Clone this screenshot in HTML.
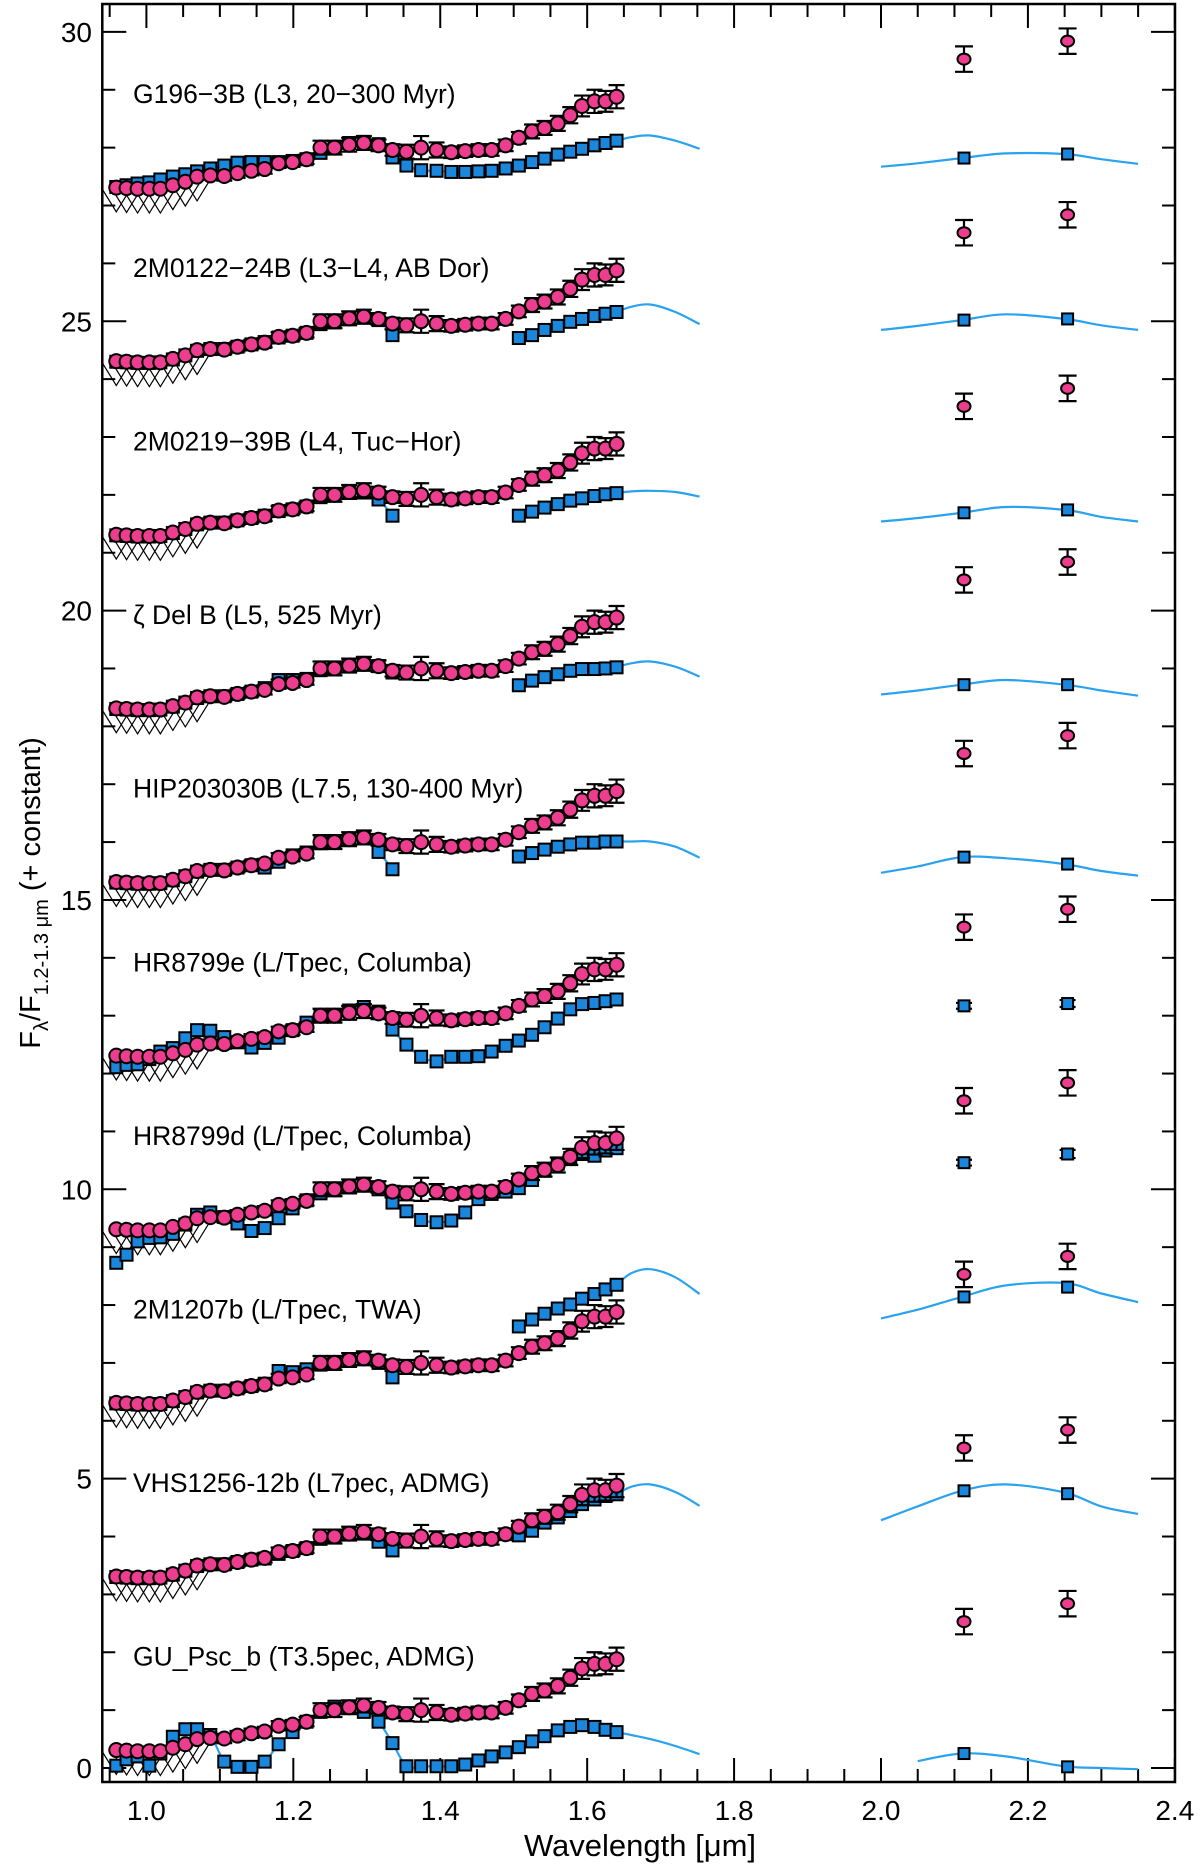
<!DOCTYPE html>
<html><head><meta charset="utf-8"><style>
html,body{margin:0;padding:0;background:#fff;}
svg{display:block;}
text{font-family:"Liberation Sans",Arial,sans-serif;fill:#000;}
</style></head><body>
<svg id="chart" width="1200" height="1870" viewBox="0 0 1200 1870" xmlns="http://www.w3.org/2000/svg">
<g id="axes"></g>
<g id="plot"></g>
<text x="640" y="1856" font-size="31" text-anchor="middle">Wavelength [μm]</text>
<text transform="translate(40,893) rotate(-90)" font-size="29" text-anchor="middle">F<tspan font-size="20" dy="8">λ</tspan><tspan dy="-8">/F</tspan><tspan font-size="20" dy="8">1.2-1.3 μm</tspan><tspan dy="-8"> (+ constant)</tspan></text>
</svg>
<script>
const LAM = [0.959,0.973,0.988,1.004,1.019,1.036,1.053,1.069,1.087,1.106,1.124,1.143,1.161,1.180,1.199,1.218,1.237,1.256,1.276,1.296,1.316,1.335,1.354,1.374,1.395,1.415,1.434,1.452,1.470,1.489,1.507,1.525,1.542,1.560,1.577,1.593,1.610,1.625,1.640];
const PINK = [0.31,0.30,0.29,0.29,0.29,0.35,0.41,0.50,0.52,0.51,0.56,0.60,0.63,0.73,0.75,0.80,1.00,1.00,1.05,1.08,1.04,0.96,0.93,1.00,0.96,0.92,0.94,0.96,0.96,1.04,1.17,1.28,1.34,1.42,1.56,1.72,1.80,1.80,1.88];
const PINK_ERR = [0,0,0,0,0,0,0,0,0.07,0.08,0.08,0.08,0.08,0.08,0.08,0.08,0.12,0.12,0.12,0.12,0.10,0.10,0.12,0.20,0.13,0.10,0.10,0.10,0.10,0.10,0.10,0.12,0.12,0.13,0.14,0.18,0.20,0.18,0.20];
const K_LAM = [2.113,2.254];
const K_PINK = [2.53,2.84];
const K_PINK_ERR = [0.22,0.22];
const OFFSETS = [27,24,21,18,15,12,9,6,3,0];
const NAMES = ["G196\u22123B (L3, 20\u2212300 Myr)","2M0122\u221224B (L3\u2212L4, AB Dor)","2M0219\u221239B (L4, Tuc\u2212Hor)","\u03b6 Del B (L5, 525 Myr)","HIP203030B (L7.5, 130-400 Myr)","HR8799e (L/Tpec, Columba)","HR8799d (L/Tpec, Columba)","2M1207b (L/Tpec, TWA)","VHS1256-12b (L7pec, ADMG)","GU_Psc_b (T3.5pec, ADMG)"];
const N = null;
const BLUE_G196 = [0.32,0.35,0.38,0.40,0.45,0.50,0.54,0.59,0.64,0.69,0.74,0.75,0.75,0.75,0.77,0.80,0.91,0.99,1.08,1.10,1.06,0.83,0.69,0.61,0.60,0.58,0.58,0.59,0.60,0.64,0.69,0.75,0.81,0.88,0.93,0.98,1.04,1.08,1.12];
const BLUE_2M0122 = [0.30,0.29,0.28,0.28,0.29,0.34,0.41,0.49,0.52,0.52,0.56,0.60,0.64,0.72,0.75,0.80,0.95,0.98,1.04,1.06,1.02,0.76,N,N,N,N,N,N,N,N,0.71,0.76,0.85,0.92,0.99,1.04,1.09,1.13,1.16];
const BLUE_2M0219 = [0.30,0.29,0.28,0.28,0.29,0.34,0.41,0.49,0.52,0.52,0.56,0.60,0.64,0.72,0.75,0.80,0.96,0.99,1.05,1.04,0.92,0.64,N,N,N,N,N,N,N,N,0.64,0.71,0.78,0.84,0.90,0.94,0.98,1.01,1.03];
const BLUE_ZDEL = [0.30,0.29,0.28,0.28,0.29,0.34,0.41,0.49,0.52,0.52,0.56,0.60,0.66,0.80,0.80,0.82,0.97,0.99,1.05,1.08,1.04,0.93,N,N,N,N,N,N,N,N,0.71,0.79,0.85,0.90,0.96,0.99,0.99,1.00,1.02];
const BLUE_HIP = [0.30,0.29,0.28,0.28,0.29,0.34,0.41,0.49,0.52,0.52,0.56,0.60,0.56,0.66,0.77,0.82,0.98,0.99,1.05,1.07,0.83,0.53,N,N,N,N,N,N,N,N,0.75,0.81,0.87,0.92,0.96,0.99,0.99,1.01,1.01];
const BLUE_HR8799E = [0.11,0.15,0.16,0.25,0.38,0.44,0.61,0.75,0.74,0.63,0.54,0.45,0.53,0.62,0.75,0.88,0.99,0.99,1.09,1.15,1.07,0.76,0.50,0.29,0.21,0.29,0.29,0.30,0.38,0.48,0.57,0.67,0.80,0.95,1.11,1.20,1.22,1.25,1.28];
const BLUE_HR8799D = [-0.27,-0.13,0.10,0.16,0.17,0.23,0.39,0.56,0.60,0.52,0.41,0.28,0.33,0.50,0.67,0.81,0.93,0.99,1.06,1.09,1.00,0.77,0.62,0.47,0.43,0.46,0.60,0.83,0.92,0.96,1.02,1.16,1.32,1.44,1.54,1.61,1.58,1.67,1.71];
const BLUE_2M1207 = [0.30,0.29,0.28,0.28,0.29,0.34,0.41,0.49,0.52,0.52,0.56,0.60,0.64,0.86,0.84,0.89,0.97,0.99,1.05,1.07,1.00,0.75,N,N,N,N,N,N,N,N,1.63,1.75,1.85,1.94,2.01,2.11,2.19,2.27,2.35];
const BLUE_VHS = [0.30,0.29,0.28,0.28,0.29,0.34,0.41,0.49,0.52,0.52,0.56,0.60,0.62,0.70,0.75,0.80,0.96,0.99,1.04,1.05,0.91,0.76,N,N,N,N,N,N,N,N,1.02,1.10,1.24,1.33,1.44,1.56,1.64,1.70,1.73];
const BLUE_GU = [0.04,0.15,0.20,0.04,0.25,0.54,0.67,0.67,0.57,0.11,0.02,0.02,0.11,0.41,0.62,0.80,0.97,1.06,1.05,0.97,0.80,0.43,0.03,0.03,0.03,0.03,0.06,0.13,0.20,0.27,0.36,0.46,0.55,0.65,0.71,0.74,0.71,0.66,0.62];
const BLUE = [BLUE_G196,BLUE_2M0122,BLUE_2M0219,BLUE_ZDEL,BLUE_HIP,BLUE_HR8799E,BLUE_HR8799D,BLUE_2M1207,BLUE_VHS,BLUE_GU];
const EXT_LAM = [1.64,1.66,1.686,1.72,1.753];
const EXT_VALS = [[1.12,1.18,1.21,1.12,0.98],[1.16,1.25,1.29,1.16,0.95],[1.03,1.06,1.07,1.05,0.97],[1.02,1.09,1.12,1.03,0.86],[1.01,1.01,1.01,0.92,0.73],null,null,[2.35,2.55,2.62,2.48,2.19],[1.73,1.86,1.90,1.77,1.53],[0.62,0.57,0.50,0.38,0.24]];
const KLINE_LAM = [2.0,2.05,2.11,2.17,2.25,2.30,2.35];
const KLINE_VALS = [[0.67,0.73,0.82,0.90,0.89,0.80,0.72],[0.85,0.92,1.02,1.12,1.04,0.93,0.85],[0.54,0.60,0.69,0.79,0.74,0.62,0.54],[0.55,0.62,0.72,0.80,0.72,0.62,0.53],[0.47,0.58,0.74,0.72,0.62,0.50,0.42],null,null,[1.77,1.92,2.14,2.34,2.38,2.20,2.05],[1.28,1.52,1.79,1.90,1.76,1.52,1.39],[null,0.12,0.25,0.20,0.03,0.0,-0.02]];
const K_BLUE = [[0.82,0.89],[1.02,1.04],[0.69,0.74],[0.72,0.72],[0.74,0.62],[1.17,1.21],[1.46,1.61],[2.14,2.31],[1.79,1.74],[0.25,0.02]];
const K_BLUE_ERR = [[0,0],[0,0],[0,0],[0,0],[0,0],[0.05,0.06],[0.05,0.07],[0,0],[0,0],[0,0]];
const X_TICKS = [1.0,1.2,1.4,1.6,1.8,2.0,2.2,2.4];
const Y_TICKS = [0,5,10,15,20,25,30];

const NS = "http://www.w3.org/2000/svg";
const L = 102.3, R = 1175, T = 4, B = 1782;
function xs(l){ return 146.4 + (l - 1) * 734.6; }
function ys(v){ return 1768 - v * 57.87; }
function mk(tag, attrs, parent){ const e = document.createElementNS(NS, tag); for (const k in attrs) e.setAttribute(k, attrs[k]); parent.appendChild(e); return e; }
const axes = document.getElementById('axes');
const plot = document.getElementById('plot');

const frame = mk('rect', {x:L, y:T, width:R-L, height:B-T, fill:'none', stroke:'#000', 'stroke-width':2.5}, axes);


for (let i = 0; i <= 30; i++) {
  const l = 0.95 + i * 0.05;
  const x = xs(l);
  if (x < L || x > R) continue;
  const major = Math.abs(((l - 1.0) / 0.2) - Math.round((l - 1.0) / 0.2)) < 1e-6;
  const len = major ? 24 : 13;
  const t1 = mk('line', {x1:x, y1:T, x2:x, y2:T+len, stroke:'#000', 'stroke-width':2}, axes);
  
  
  const t2 = mk('line', {x1:x, y1:B, x2:x, y2:B-len, stroke:'#000', 'stroke-width':2}, axes);
  
  
}
X_TICKS.forEach(l => {
  const t = mk('text', {x:xs(l), y:1820, 'font-size':28, 'text-anchor':'middle'}, axes);
  t.textContent = l.toFixed(1);
  
  
});
for (let v = 0; v <= 30; v++) {
  const y = ys(v);
  const len = (v % 5 === 0) ? 24 : 13;
  const a = mk('line', {x1:L, y1:y, x2:L+len, y2:y, stroke:'#000', 'stroke-width':2}, axes);
  
  
  const b = mk('line', {x1:R, y1:y, x2:R-len, y2:y, stroke:'#000', 'stroke-width':2}, axes);
  
  
}
Y_TICKS.forEach(v => {
  const t = mk('text', {x:92, y:ys(v)+10, 'font-size':28, 'text-anchor':'end'}, axes);
  t.textContent = String(v);
  
  
});

function smoothPath(pts){
  if (pts.length < 2) return '';
  let d = `M${pts[0][0].toFixed(1)},${pts[0][1].toFixed(1)}`;
  for (let i = 0; i < pts.length - 1; i++) {
    const p0 = pts[i-1] || pts[i], p1 = pts[i], p2 = pts[i+1], p3 = pts[i+2] || p2;
    const c1x = p1[0] + (p2[0]-p0[0])/6, c1y = p1[1] + (p2[1]-p0[1])/6;
    const c2x = p2[0] - (p3[0]-p1[0])/6, c2y = p2[1] - (p3[1]-p1[1])/6;
    d += ` C${c1x.toFixed(1)},${c1y.toFixed(1)} ${c2x.toFixed(1)},${c2y.toFixed(1)} ${p2[0].toFixed(1)},${p2[1].toFixed(1)}`;
  }
  return d;
}
function lineFrom(lams, vals, off, parent, name){
  let seg = [];
  const flush = () => {
    if (seg.length > 1) {
      const p = mk('path', {d:smoothPath(seg), fill:'none', stroke:'#2aa2ee', 'stroke-width':2.2}, parent);
      
      
    }
    seg = [];
  };
  for (let i = 0; i < lams.length; i++) {
    if (vals[i] === null) { flush(); continue; }
    seg.push([xs(lams[i]), ys(vals[i] + off)]);
  }
  flush();
}
function errbar(x, yc, e, parent, w){
  if (!e) return;
  const y1 = ys(yc + e), y2 = ys(yc - e);
  const g = mk('path', {d:`M${x},${y1}V${y2}M${x-w},${y1}H${x+w}M${x-w},${y2}H${x+w}`, stroke:'#000', 'stroke-width':2.2, fill:'none'}, parent);
  
  
}
function square(x, y, s, parent){
  const r = mk('rect', {x:x-s/2, y:y-s/2, width:s, height:s, fill:'#1a86dc', stroke:'#000', 'stroke-width':2}, parent);
  
  
}

OFFSETS.forEach((off, r) => {
  const g = mk('g', {}, plot);
  
  
  const lbl = mk('text', {x:133, y:ys(off + 1.94) + 10, 'font-size':26.5}, g);
  lbl.textContent = NAMES[r];
  
  
  lineFrom(LAM, BLUE[r], off, g, 'model-line');
  if (EXT_VALS[r]) lineFrom(EXT_LAM, EXT_VALS[r], off, g, 'model-line-ext');
  if (KLINE_VALS[r]) lineFrom(KLINE_LAM, KLINE_VALS[r], off, g, 'model-line-k');
  const dx = 15;
  for (let i = 0; i < 8; i++) {
    const x = xs(LAM[i]);
    const top = ys(off + PINK[i]);
    const bot = ys(off + PINK[i] - 0.42);
    const v = mk('polyline', {points:`${x-dx},${top} ${x},${bot} ${x+dx},${top}`, fill:'none', stroke:'#000', 'stroke-width':1.2}, g);
    
    
  }
  BLUE[r].forEach((v, i) => { if (v !== null) square(xs(LAM[i]), ys(off + v), 12, g); });
  K_BLUE[r].forEach((v, i) => {
    errbar(xs(K_LAM[i]), off + v, K_BLUE_ERR[r][i], g, 8);
    square(xs(K_LAM[i]), ys(off + v), 11, g);
  });
  PINK.forEach((v, i) => errbar(xs(LAM[i]), off + v, PINK_ERR[i], g, 8));
  PINK.forEach((v, i) => {
    const c = mk('circle', {cx:xs(LAM[i]), cy:ys(off + v), r:7, fill:'#ec3d8f', stroke:'#000', 'stroke-width':2}, g);
    
    
  });
  K_PINK.forEach((v, i) => {
    errbar(xs(K_LAM[i]), off + v, K_PINK_ERR[i], g, 9);
    const c = mk('ellipse', {cx:xs(K_LAM[i]), cy:ys(off + v), rx:6.5, ry:5.5, fill:'#ec3d8f', stroke:'#000', 'stroke-width':2}, g);
    
    
  });
});
</script>
</body></html>
